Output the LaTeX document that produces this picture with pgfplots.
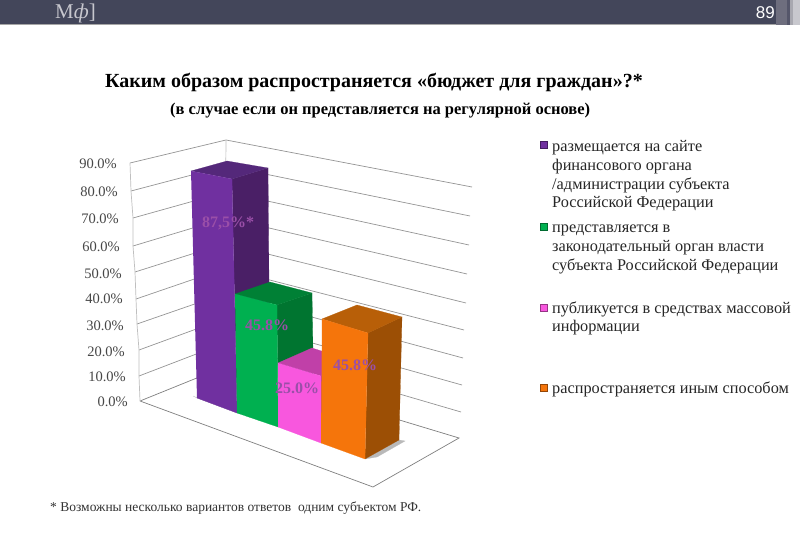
\documentclass[border=0pt]{standalone}
\usepackage{fontspec}
\setmainfont{Liberation Serif}
\newfontfamily\arialf{Liberation Sans}
\usepackage{pgfplots}
\pgfplotsset{compat=1.18}
\definecolor{pf}{HTML}{7030A0}\definecolor{ps}{HTML}{4A1F66}\definecolor{pt}{HTML}{54287A}
\definecolor{gf}{HTML}{00B050}\definecolor{gs}{HTML}{007530}\definecolor{gt}{HTML}{008035}
\definecolor{mf}{HTML}{F857DE}\definecolor{ms}{HTML}{A83A98}\definecolor{mt}{HTML}{C040A8}
\definecolor{of}{HTML}{F5750B}\definecolor{os}{HTML}{9C4F05}\definecolor{ot}{HTML}{B85F08}
\definecolor{hdr}{HTML}{43465A}
\definecolor{grid}{HTML}{959595}
\definecolor{lbl}{HTML}{9A4FA8}
\definecolor{st1}{HTML}{6E6E7E}\definecolor{st2}{HTML}{55566A}\definecolor{st3}{HTML}{A8A8B0}\definecolor{st4}{HTML}{C8C8CE}
\newcommand\face[2]{\addplot3[fill=#1,draw=#1,line width=0.2pt,line join=round,no markers,forget plot]
  table[row sep=\\,x=px,y expr={554-\thisrow{py}-2.65*\thisrow{val}},z=val]{px py val\\ #2};}
\newcommand\gl[2][grid]{\addplot3[draw=#1,line width=0.7pt,no markers,forget plot]
  table[row sep=\\,x=px,y expr={554-\thisrow{py}-2.65*\thisrow{val}},z=val]{px py val\\ #2};}
\newcommand\fs[1]{\fontsize{#1}{#1}\selectfont}
\newcommand\legsq[3]{\fill[#1,draw=#1!60!black,line width=0.5pt] (#2pt,554pt-#3pt) rectangle ++(7pt,-7pt);}
\newcommand\legl[2]{\node[anchor=base west,inner sep=0pt,text=black!85] at (552pt,554pt-#1pt-1pt) {\fs{16.3}#2};}
\newcommand\vall[3]{\node[text=lbl,inner sep=0pt] at (#1pt,554pt-#2pt) {\fs{16}\bfseries #3};}
\begin{document}
\begin{tikzpicture}
\fill[white] (0,0) rectangle (800pt,554pt);
% header band
\fill[hdr] (0pt,530pt) rectangle (800pt,554pt);
\fill[gray!70] (0pt,529pt) rectangle (800pt,530pt);
\fill[st1] (776pt,529pt) rectangle (787pt,554pt);
\fill[st2] (787pt,529pt) rectangle (790pt,554pt);
\fill[st3] (790pt,529pt) rectangle (793pt,554pt);
\fill[st4] (793pt,529pt) rectangle (800pt,554pt);
\node[anchor=west,text=white!70!hdr,inner sep=0pt] at (55pt,541pt) {\fs{21}М{\itshape ф}]};
\node[anchor=east,text=white,inner sep=0pt] at (775pt,541pt) {\arialf\fs{17}89};
% titles
\node[inner sep=0pt,anchor=base west] at (105pt,554pt-88pt) {\fs{20}\bfseries Каким образом распространяется «бюджет для граждан»?*};
\node[inner sep=0pt,anchor=base west] at (170pt,554pt-114.5pt) {\fs{16.5}\bfseries (в случае если он представляется на регулярной основе)};
\node[inner sep=0pt,anchor=base west,text=black!80] at (50pt,554pt-512pt) {\fs{13.5}* Возможны несколько вариантов ответов\ \ одним субъектом РФ.};
\begin{axis}[anchor=origin,at={(0pt,0pt)},x={(1pt,0pt)},y={(0pt,1pt)},z={(0pt,2.65pt)},
  hide axis,clip=false,disabledatascaling,
  xmin=0,xmax=800,ymin=-300,ymax=554,zmin=0,zmax=90]
% floor and grid
\gl[gray]{140 401 0\\ 224 367 0\\ 459 438 0\\ 373 487 0\\ 140 401 0\\}
\gl{139 376 10\\ 225 343 10\\ 461 412 10\\}
\gl{139 350 20\\ 225 318.5 20\\ 462 385 20\\}
\gl{137 324 30\\ 225 293.5 30\\ 463 358 30\\}
\gl{136 299 40\\ 225 268.5 40\\ 464 330 40\\}
\gl{135 272 50\\ 225 243.5 50\\ 466 303 50\\}
\gl{133 246 60\\ 226 218 60\\ 467 274 60\\}
\gl{133 218 70\\ 226 192 70\\ 469 245 70\\}
\gl{131 191 80\\ 226 166 80\\ 470 216 80\\}
\gl{130 163 90\\ 226 140 90\\ 472 187 90\\}
\gl[gray!50]{130 163 90\\ 131 191 80\\ 133 218 70\\ 133 246 60\\ 135 272 50\\ 136 299 40\\ 137 324 30\\ 139 350 20\\ 139 376 10\\ 140 401 0\\}
\gl[gray!50]{226 140 90\\ 224 367 0\\}
% base shadows
\face{gray!55}{193 396 0\\ 197 398 0\\ 237 413 0\\}
\face{gray!55}{399 440 0\\ 405 441 0\\ 377 457 0\\ 365 459 0\\}
% purple, 87.5
\face{ps}{232 179 87.5\\ 268 168 87.5\\ 270 395 0\\ 237 413 0\\}
\face{pt}{191 171 87.5\\ 227 161 87.5\\ 268 168 87.5\\ 232 179 87.5\\}
\face{pf}{191 171 87.5\\ 232 179 87.5\\ 237 413 0\\ 197 398 0\\}
% green, 45.8
\face{gs}{277 305 45.8\\ 312 293 45.8\\ 314 410 0\\ 278 427 0\\}
\face{gt}{235 294 45.8\\ 270 282 45.8\\ 312 293 45.8\\ 277 305 45.8\\}
\face{gf}{235 294 45.8\\ 277 305 45.8\\ 278 427 0\\ 237 413 0\\}
% magenta, 25
\face{ms}{321 376 25\\ 356 362 25\\ 357 425 0\\ 321 443 0\\}
\face{mt}{278 363 25\\ 312 348 25\\ 356 362 25\\ 321 376 25\\}
\face{mf}{278 363 25\\ 321 376 25\\ 321 443 0\\ 278 427 0\\}
% orange, 45.8
\face{os}{368 333 45.8\\ 402 317 45.8\\ 399 440 0\\ 365 459 0\\}
\face{ot}{322 319 45.8\\ 357 305 45.8\\ 402 317 45.8\\ 368 333 45.8\\}
\face{of}{322 319 45.8\\ 368 333 45.8\\ 365 459 0\\ 321 443 0\\}
\end{axis}
% value axis labels
\foreach \t/\r/\yy in {90.0/117/164,80.0/118/192,70.0/119/219,60.0/120/247,50.0/122/274,40.0/123/299,30.0/124/326,20.0/125/352,10.0/126/377,0.0/128/402}
  \node[anchor=east,inner sep=0pt,text=black!72] at (\r pt,554pt-\yy pt) {\fs{14.5}\t\%};
% data labels
\vall{228}{223}{87,5\%*}
\vall{267}{325}{45.8\%}
\vall{297}{388}{25.0\%}
\vall{355}{365}{45.8\%}
% legend
\legsq{pf}{540}{141}
\legsq{gf}{540}{223}
\legsq{mf}{540}{304}
\legsq{of}{540}{384}
\legl{151}{размещается на сайте}
\legl{169.7}{финансового органа}
\legl{188.4}{/администрации субъекта}
\legl{207}{Российской Федерации}
\legl{231.5}{представляется в}
\legl{250.5}{законодательный орган власти}
\legl{269.5}{субъекта Российской Федерации}
\legl{312.5}{публикуется в средствах массовой}
\legl{331}{информации}
\legl{392.5}{распространяется иным способом}
\pgfresetboundingbox
\path[use as bounding box] (0pt,0pt) rectangle (800pt,554pt);
\end{tikzpicture}
\end{document}
